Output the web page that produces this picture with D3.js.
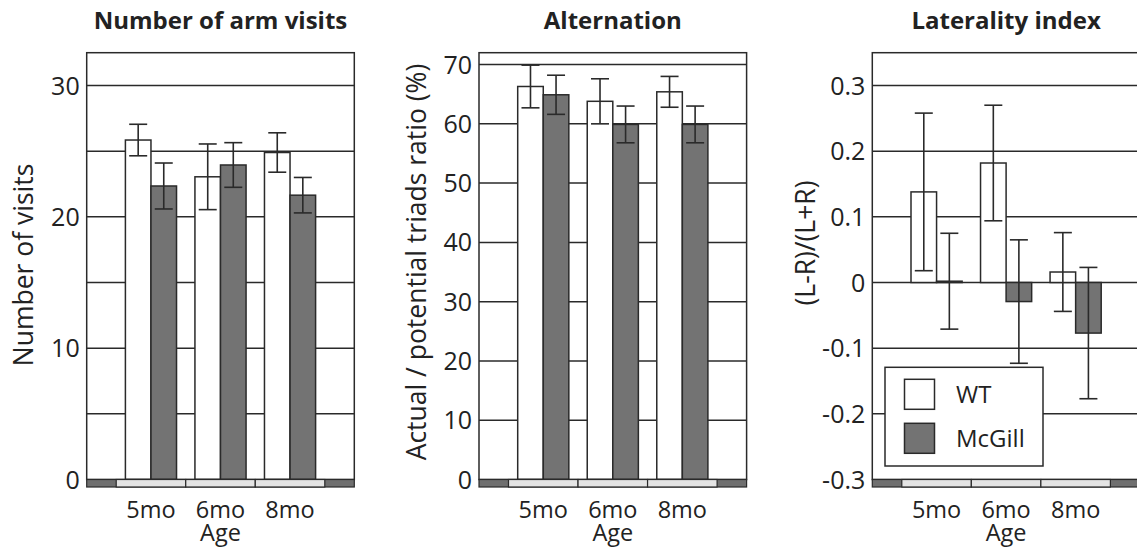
<html>
<head>
<script src="https://d3js.org/d3.v7.min.js"></script>
<style>
  body { margin: 0; background: #fff; }
  text { font-family: "Open Sans", sans-serif; fill: #222; }
</style>
</head>
<body>
<script>

// data
var ages = ["5mo", "6mo", "8mo"];
var groups = ["WT", "McGill"];

var visitsWT = [25.85, 23.05, 24.9];
var visitsWTerr = [1.2, 2.5, 1.5];
var visitsMG = [22.35, 23.95, 21.65];
var visitsMGerr = [1.75, 1.7, 1.35];

var altWT = [66.3, 63.8, 65.4];
var altWTerr = [3.6, 3.8, 2.6];
var altMG = [64.9, 59.9, 59.9];
var altMGerr = [3.3, 3.1, 3.1];

var latWT = [0.138, 0.182, 0.016];
var latWTerr = [0.12, 0.088, 0.06];
var latMG = [0.002, -0.029, -0.077];
var latMGerr = [0.073, 0.094, 0.1];

var ticks1 = [0, 10, 20, 30];
var grid1 = [5, 10, 15, 20, 25, 30];
var ticks2 = [0, 10, 20, 30, 40, 50, 60, 70];
var grid2 = [10, 20, 30, 40, 50, 60, 70];
var ticks3 = [-0.3, -0.2, -0.1, 0, 0.1, 0.2, 0.3];
var tickLabels3 = ["-0.3", "-0.2", "-0.1", "0", "0.1", "0.2", "0.3"];
var grid3 = [-0.2, -0.1, 0, 0.1, 0.2, 0.3];

var W = 1137, H = 552;
var plotTop = 52.7, base = 479.5, plotW = 267.6;

var svg = d3.select("body").append("svg")
            .attr("width", W)
            .attr("height", H);

var panels = [
  {title: "Number of arm visits", ytitle: "Number of visits", left: 86.7, domain: [0, 32.5],
   ticks: ticks1, labels: ticks1.map(String), grid: grid1,
   wt: visitsWT, wtErr: visitsWTerr, mg: visitsMG, mgErr: visitsMGerr, ytOff: 54, ytY: 265},
  {title: "Alternation", ytitle: "Actual / potential triads ratio (%)", left: 479, domain: [0, 72],
   ticks: ticks2, labels: ticks2.map(String), grid: grid2,
   wt: altWT, wtErr: altWTerr, mg: altMG, mgErr: altMGerr, ytOff: 53, ytY: 262},
  {title: "Laterality index", ytitle: "(L-R)/(L+R)", left: 872.3, domain: [-0.3, 0.35],
   ticks: ticks3, labels: tickLabels3, grid: grid3,
   wt: latWT, wtErr: latWTerr, mg: latMG, mgErr: latMGerr, ytOff: 57, ytY: 243, legend: true}
];

var barFill = "#737373", ink = "#2a2a2a";

panels.forEach(function(p) {
  var g = svg.append("g").attr("transform", "translate(" + p.left + ",0)");

  var y = d3.scaleLinear().domain(p.domain).range([base, plotTop]);
  var x = d3.scaleBand().domain(ages).range([29.5, plotW - 29.5]);
  var xi = d3.scaleBand().domain(groups).range([0, x.bandwidth()]).paddingOuter(0.36);

  // gridlines
  g.selectAll(".grid")
   .data(p.grid)
   .enter().append("line")
   .attr("x1", 0).attr("x2", plotW)
   .attr("y1", function(d) { return y(d); })
   .attr("y2", function(d) { return y(d); })
   .attr("stroke", ink).attr("stroke-width", 1.5);

  // bars
  var rows = [];
  ages.forEach(function(a, i) {
    rows.push({age: a, grp: "WT", v: p.wt[i], e: p.wtErr[i]});
    rows.push({age: a, grp: "McGill", v: p.mg[i], e: p.mgErr[i]});
  });
  var zero = Math.max(p.domain[0], 0);

  g.selectAll(".bar")
   .data(rows)
   .enter().append("rect")
   .attr("x", function(d) { return x(d.age) + xi(d.grp); })
   .attr("width", xi.bandwidth())
   .attr("y", function(d) { return y(Math.max(d.v, zero)); })
   .attr("height", function(d) { return Math.abs(y(d.v) - y(zero)); })
   .attr("fill", function(d) { return d.grp == "WT" ? "#fff" : barFill; })
   .attr("stroke", ink).attr("stroke-width", 1.5);

  // error bars
  var eb = g.selectAll(".err")
            .data(rows)
            .enter().append("g")
            .attr("transform", function(d) { return "translate(" + (x(d.age) + xi(d.grp) + xi.bandwidth() / 2) + ",0)"; });
  eb.append("line")
    .attr("x1", 0).attr("x2", 0)
    .attr("y1", function(d) { return y(d.v + d.e); })
    .attr("y2", function(d) { return y(d.v - d.e); })
    .attr("stroke", ink).attr("stroke-width", 1.6);
  eb.selectAll(".cap")
    .data(function(d) { return [d.v + d.e, d.v - d.e]; })
    .enter().append("line")
    .attr("x1", -9).attr("x2", 9)
    .attr("y1", function(d) { return y(d); })
    .attr("y2", function(d) { return y(d); })
    .attr("stroke", ink).attr("stroke-width", 1.6);

  // frame
  g.append("rect")
   .attr("x", 0).attr("y", plotTop)
   .attr("width", plotW).attr("height", base - plotTop)
   .attr("fill", "none").attr("stroke", ink).attr("stroke-width", 1.5);

  // bottom strip
  g.append("rect")
   .attr("x", 0).attr("y", base)
   .attr("width", plotW).attr("height", 7.5)
   .attr("fill", "#6f6f6f").attr("stroke", ink).attr("stroke-width", 1.2);
  g.selectAll(".strip")
   .data(ages)
   .enter().append("rect")
   .attr("x", function(d) { return x(d); })
   .attr("y", base)
   .attr("width", x.bandwidth())
   .attr("height", 7.5)
   .attr("fill", "#e4e4e4").attr("stroke", ink).attr("stroke-width", 1.2);

  // y tick labels
  g.selectAll(".tick")
   .data(p.ticks)
   .enter().append("text")
   .attr("x", -7)
   .attr("y", function(d) { return y(d); })
   .attr("dy", "0.36em")
   .attr("text-anchor", "end")
   .style("font-size", "25px")
   .text(function(d, i) { return p.labels[i]; });

  // x labels
  g.selectAll(".xl")
   .data(ages)
   .enter().append("text")
   .attr("x", function(d) { return x(d) + x.bandwidth() / 2; })
   .attr("y", 518)
   .attr("text-anchor", "middle")
   .style("font-size", "23.5px")
   .text(function(d) { return d; });

  g.append("text")
   .attr("x", plotW / 2)
   .attr("y", 541)
   .attr("text-anchor", "middle")
   .style("font-size", "23.5px")
   .text("Age");

  // titles
  g.append("text")
   .attr("x", plotW / 2)
   .attr("y", 29)
   .attr("text-anchor", "middle")
   .style("font-size", "24px")
   .style("font-weight", "bold")
   .text(p.title);

  g.append("text")
   .attr("transform", "translate(" + (-p.ytOff) + "," + p.ytY + ") rotate(-90)")
   .attr("text-anchor", "middle")
   .style("font-size", "26.5px")
   .text(p.ytitle);

  if (p.legend) {
    var lg = g.append("g").attr("transform", "translate(12.7,367.3)");
    lg.append("rect")
      .attr("width", 158).attr("height", 98.7)
      .attr("fill", "#fff").attr("stroke", ink).attr("stroke-width", 1.5);
    lg.selectAll(".sw")
      .data(groups)
      .enter().append("rect")
      .attr("x", 19.5)
      .attr("y", function(d, i) { return 12 + i * 44; })
      .attr("width", 30).attr("height", 30)
      .attr("fill", function(d) { return d == "WT" ? "#fff" : barFill; })
      .attr("stroke", ink).attr("stroke-width", 1.5);
    lg.selectAll(".lt")
      .data(groups)
      .enter().append("text")
      .attr("x", 71)
      .attr("y", function(d, i) { return 36 + i * 44; })
      .style("font-size", "24px")
      .text(function(d) { return d; });
  }
});

</script>
</body>
</html>
